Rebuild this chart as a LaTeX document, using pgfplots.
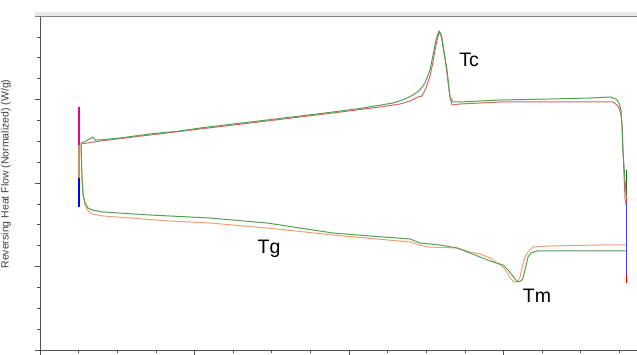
\documentclass[border=0pt]{standalone}
\usepackage{fontspec}
\setmainfont{Liberation Sans}
\usepackage{pgfplots}
\pgfplotsset{compat=1.18}
\definecolor{cgreen}{RGB}{85,160,85}
\definecolor{cred}{RGB}{205,105,105}
\definecolor{corange}{RGB}{238,162,112}
\definecolor{cblue}{RGB}{70,70,220}
\definecolor{colive}{RGB}{190,150,90}
\definecolor{cdkgreen}{RGB}{40,110,40}
\definecolor{axgray}{RGB}{80,80,80}
\begin{document}
\begin{tikzpicture}[x=1pt,y=1pt]
\useasboundingbox (0,0) rectangle (637,355);
\fill[gray!18] (35,339) rectangle (637,342.5);
\begin{axis}[
  at={(40pt,5pt)}, anchor=south west, scale only axis,
  width=597pt, height=334pt,
  xmin=40, xmax=637, ymin=16, ymax=350, y dir=reverse,
  axis line style={draw=none},
  xtick={40,194.5,349,503.5},
  minor xtick={78.6,117.2,155.9,233.1,271.8,310.4,387.6,426.2,464.9,542.1,580.8,619.4},
  ytick={16,99.5,183,266.5,350},
  minor ytick={36.9,57.75,78.6,120.4,141.25,162.1,203.9,224.75,245.6,287.4,308.25,329.1},
  xticklabels={}, yticklabels={},
  tick align=outside, xtick pos=bottom, ytick pos=left,
  major tick length=5pt, minor tick length=3pt,
  tick style={axgray, line width=0.7pt},
  every axis plot/.append style={line width=1pt, line join=round},
]
% upper curve, red
\addplot[cred] coordinates {
(81,144) (100,141) (150,135) (200,129) (267,121) (333,113) (380,107) (400,104)
(410,101) (418,97) (422,96) (426,88) (430,76) (433,62) (436,45) (439,32)
(442,38) (444,52) (446,66) (448,82) (450,97) (452,105) (460,104) (500,102)
(550,102) (613,102) (617,105) (619,108) (621,115) (622,125) (623,150)
(624,175) (625,198) (626,205)};
% upper curve, green
\addplot[cgreen] coordinates {
(81,143) (86,141) (93,137) (95,140) (100,140) (120,138) (150,134) (180,131)
(200,128) (233,124) (267,120) (300,116) (333,112) (363,108) (393,103) (405,99)
(413,95) (420,90) (425,83) (430,70) (433,55) (436,40) (439,31) (441,34)
(443,47) (445,58) (447,70) (449,88) (450,97) (453,102) (460,102) (500,100)
(550,99) (590,98) (610,97) (616,99) (619,103) (621,110) (622,125) (623,152)
(625,180) (626,192) (627,202)};
% lower curve, orange
\addplot[corange] coordinates {
(81,143) (81.5,165) (83,190) (85,205) (88,211) (92,214) (103,216) (170,221)
(210,223) (267,228) (333,235) (410,242) (427,247) (457,248) (470,252)
(480,254) (490,258) (503,267) (507,272) (510,278) (513,281) (515,282)
(518,281) (520,277) (522,268) (525,257) (528,252) (533,247) (550,246)
(600,245) (626,245)};
% lower curve, green
\addplot[cgreen] coordinates {
(81,143) (81.5,160) (82,180) (83,195) (85,203) (88,208) (92,210) (103,212)
(150,215) (210,218) (267,223) (300,228) (333,233) (370,236) (410,239)
(420,243) (440,245) (457,248) (470,253) (480,257) (490,261) (503,265)
(508,270) (512,275) (515,279) (518,282) (521,281) (523,278) (525,270)
(528,257) (531,253) (537,251) (570,251) (600,251) (626,251)};
% left vertical segments
\addplot[draw=magenta, line width=2pt] coordinates {(79.3,107) (79.3,126) (79.3,145)};
\addplot[draw=colive, line width=2pt] coordinates {(79.3,145) (79.3,160) (79.3,178)};
\addplot[draw=blue, line width=2pt] coordinates {(79.3,178) (79.3,190) (79.3,207)};
% right vertical segments
\addplot[draw=cdkgreen, line width=1.3pt] coordinates {(626.7,170) (626.7,202)};
\addplot[draw=cred, line width=1.3pt] coordinates {(626.3,196) (626.3,204)};
\addplot[draw=cblue, line width=1.3pt] coordinates {(626.3,203) (626.3,276)};
\addplot[draw=red, line width=1.3pt] coordinates {(626.3,274) (626.3,283)};
\node[font=\fontsize{19.5}{20}\selectfont, anchor=base] at (axis cs:469,67) {Tc};
\node[font=\fontsize{19.5}{20}\selectfont, anchor=base] at (axis cs:269,254) {Tg};
\node[font=\fontsize{19.5}{20}\selectfont, anchor=base] at (axis cs:537,303) {Tm};
\end{axis}
\draw[axgray, line width=0.8pt] (40,5) -- (637,5);
\draw[axgray, line width=0.8pt] (40,5) -- (40,339);
\draw[gray, line width=0.8pt] (35,339) -- (637,339);
\node[rotate=90, font=\fontsize{10.5}{11}\selectfont, text=black!75] at (6,181) {Reversing Heat Flow (Normalized) (W/g)};
\end{tikzpicture}
\end{document}
